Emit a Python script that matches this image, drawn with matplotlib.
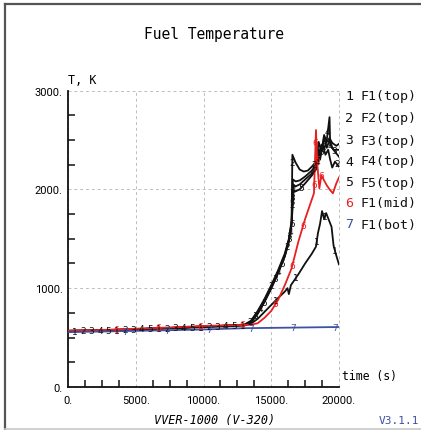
import numpy as np
import matplotlib
matplotlib.use("Agg")
import matplotlib.pyplot as plt
from matplotlib.lines import Line2D

# ==========================================
# DATA
# ==========================================

t1 = [0, 2000, 4000, 6000, 8000, 10000, 12000, 13000, 13500, 14000, 14500,
      15000, 15500, 16000, 16200, 16300, 16450, 17000, 17500, 18000, 18300,
      18450, 18600, 18750, 18900, 19050, 19250, 19450, 19600, 19800, 20000]
T1 = [565, 570, 575, 585, 595, 605, 615, 622, 640, 690, 760,
      830, 900, 965, 1000, 940, 1030, 1140, 1250, 1350, 1420,
      1560, 1650, 1780, 1700, 1760, 1690, 1620, 1430, 1330, 1240]

t2 = [0, 2000, 4000, 6000, 8000, 10000, 12000, 13000, 13500, 14000, 14500,
      15000, 15500, 16000, 16300, 16500, 16560, 16800, 17100, 17400, 17700,
      18000, 18300, 18500, 18600, 18800, 19000, 19200, 19350, 19500, 19700, 20000]
T2 = [568, 572, 580, 590, 600, 612, 622, 630, 670, 770, 890,
      1030, 1180, 1350, 1500, 1680, 2350, 2270, 2200, 2180, 2190,
      2230, 2280, 2400, 2300, 2450, 2350, 2400, 2300, 2220, 2280, 2230]

t3 = [0, 2000, 4000, 6000, 8000, 10000, 12000, 13000, 13500, 14000, 14500,
      15000, 15500, 16000, 16300, 16500, 16600, 16800, 17100, 17500, 18000,
      18300, 18500, 18700, 18900, 19100, 19300, 19500, 19700, 20000]
T3 = [568, 572, 580, 590, 600, 612, 622, 628, 660, 755, 875,
      1015, 1165, 1335, 1485, 1660, 2100, 2080, 2090, 2130, 2190,
      2250, 2480, 2380, 2520, 2420, 2500, 2420, 2380, 2330]

t4 = [0, 2000, 4000, 6000, 8000, 10000, 12000, 13000, 13500, 14000, 14500,
      15000, 15500, 16000, 16300, 16500, 16620, 16800, 17100, 17500, 18000,
      18300, 18500, 18700, 18900, 19100, 19300, 19350, 19600, 20000]
T4 = [568, 572, 580, 590, 600, 612, 622, 627, 655, 745, 865,
      1005, 1155, 1325, 1475, 1650, 2050, 2030, 2050, 2100, 2160,
      2220, 2350, 2450, 2400, 2500, 2730, 2450, 2400, 2400]

t5 = [0, 2000, 4000, 6000, 8000, 10000, 12000, 13000, 13500, 14000, 14500,
      15000, 15500, 16000, 16300, 16500, 16650, 16800, 17100, 17500, 18000,
      18300, 18500, 18700, 18900, 19100, 19300, 19500, 19800, 20000]
T5 = [568, 572, 580, 590, 600, 612, 622, 626, 650, 740, 860,
      995, 1150, 1320, 1470, 1640, 1990, 1980, 2000, 2060, 2140,
      2200, 2300, 2380, 2550, 2480, 2520, 2470, 2440, 2460]

t6 = [0, 2000, 4000, 6000, 8000, 10000, 12000, 13000, 13500, 14000, 14500,
      15000, 15500, 16000, 16500, 17000, 17500, 18000, 18150, 18300, 18400,
      18550, 18700, 18900, 19100, 19300, 19550, 19800, 20000]
T6 = [570, 575, 585, 595, 605, 618, 625, 628, 630, 645, 700,
      770, 880, 1030, 1200, 1470, 1700, 1900, 1960, 2600, 2250,
      2010, 2140, 2090, 2040, 2000, 1960, 2060, 2120]

t7 = [0, 5000, 10000, 13000, 16000, 20000]
T7 = [555, 568, 582, 595, 600, 607]

curve_ids = [1, 2, 3, 4, 5, 6, 7]
legend_names = ["F1(top)", "F2(top)", "F3(top)", "F4(top)", "F5(top)",
                "F1(mid)", "F1(bot)"]

x_ticks = [0, 5000, 10000, 15000, 20000]
x_labels = ["0.", "5000.", "10000.", "15000.", "20000."]
y_ticks = [0, 1000, 2000, 3000]
y_labels = ["0.", "1000.", "2000.", "3000."]

# ==========================================
# FIGURE
# ==========================================

W, H = 421, 431
fig = plt.figure(figsize=(W / 100, H / 100), dpi=100)
fig.patch.set_facecolor("white")


def fx(px):
    return px / W


def fy(py):
    return 1 - py / H


ax_l, ax_r, ax_t, ax_b = 68, 339, 91.5, 388
ax = fig.add_axes([fx(ax_l), fy(ax_b), (ax_r - ax_l) / W, (ax_b - ax_t) / H])
ax.set_xlim(0, 20000)
ax.set_ylim(0, 3000)

BLACK = "#111111"
RED = "#e8201f"
BLUE = "#3f51a3"
mono = "DejaVu Sans Mono"

for s in ["top", "right"]:
    ax.spines[s].set_visible(False)
for s in ["left", "bottom"]:
    ax.spines[s].set_linewidth(1.3)
    ax.spines[s].set_color(BLACK)

ax.set_xticks(x_ticks)
ax.set_xticklabels(x_labels)
ax.set_yticks(y_ticks)
ax.set_yticklabels(y_labels)
ax.set_xticks([v for v in np.arange(0, 20001, 1250) if v % 5000 != 0], minor=True)
ax.set_yticks([v for v in np.arange(0, 3001, 250) if v % 1000 != 0], minor=True)
ax.tick_params(which="major", length=0, labelsize=8, pad=6)
ax.tick_params(axis="y", which="major", pad=4)
ax.tick_params(which="minor", direction="in", length=5, width=1.1, color=BLACK)
for lab in ax.get_xticklabels() + ax.get_yticklabels():
    lab.set_fontfamily("Roboto")

ax.grid(True, which="major", color="#bdbdbd", linestyle=(0, (3, 3)), linewidth=0.7)
for gl in ax.get_xgridlines() + ax.get_ygridlines():
    gl.set_clip_on(False)

series = [(t1, T1, BLACK), (t2, T2, BLACK), (t3, T3, BLACK), (t4, T4, BLACK),
          (t5, T5, BLACK), (t6, T6, RED), (t7, T7, BLUE)]

for (t, T, c), n in zip(series, curve_ids):
    ax.plot(t, T, color=c, linewidth=1.3, zorder=3 if n != 7 else 4)


def label_curve(t, T, num, color, start, step=42):
    # numbers along the curve, evenly spaced in screen distance
    pts = ax.transData.transform(np.column_stack([t, T]))
    seg = np.hypot(np.diff(pts[:, 0]), np.diff(pts[:, 1]))
    cum = np.concatenate([[0], np.cumsum(seg)])
    s = start
    while s < cum[-1] - 3:
        x = np.interp(s, cum, t)
        y = np.interp(s, cum, T)
        ax.text(x, y, str(num), color=color, fontsize=6.5, ha="center",
                va="center", zorder=5)
        s += step


for (t, T, c), n in zip(series, curve_ids):
    label_curve(t, T, n, c, start=7 + 8.3 * (n - 1))

# ==========================================
# TEXTS
# ==========================================

fig.text(fx(214), fy(34), "Fuel Temperature", family=mono, fontsize=10.5,
         ha="center", va="center")
fig.text(fx(68), fy(81), "T, K", family=mono, fontsize=8.5, ha="left", va="center")
fig.text(fx(342), fy(377), "time (s)", family=mono, fontsize=8.3, ha="left", va="center")
fig.text(fx(215), fy(421), "VVER-1000 (V-320)", family=mono, fontsize=8.5,
         style="italic", ha="center", va="center")
fig.text(fx(419), fy(421), "V3.1.1", family=mono, fontsize=8, color=BLUE,
         ha="right", va="center")

leg_colors = [BLACK] * 5 + [RED, BLUE]
leg_y = [97, 119, 141, 162, 183, 204, 225]
char_w = 0.602 * 9.5 * 100 / 72
for n, name, c, yy in zip(curve_ids, legend_names, leg_colors, leg_y):
    fig.text(fx(345), fy(yy), str(n), family=mono, fontsize=9.5, color=c,
             ha="left", va="center")
    fig.text(fx(345 + 2 * char_w), fy(yy), name, family=mono, fontsize=9.5,
             color=BLACK, ha="left", va="center")

# frame around the picture
fig.add_artist(Line2D([fx(4.5), fx(4.5)], [fy(5), fy(430)], color="#555555", linewidth=1.6))
fig.add_artist(Line2D([fx(4.5), fx(421)], [fy(5), fy(5)], color="#555555", linewidth=1.6))
fig.add_artist(Line2D([fx(4.5), fx(421)], [fy(430), fy(430)], color="#c8c8c8", linewidth=1.2))

fig.savefig("out.png", dpi=100)
plt.close(fig)
